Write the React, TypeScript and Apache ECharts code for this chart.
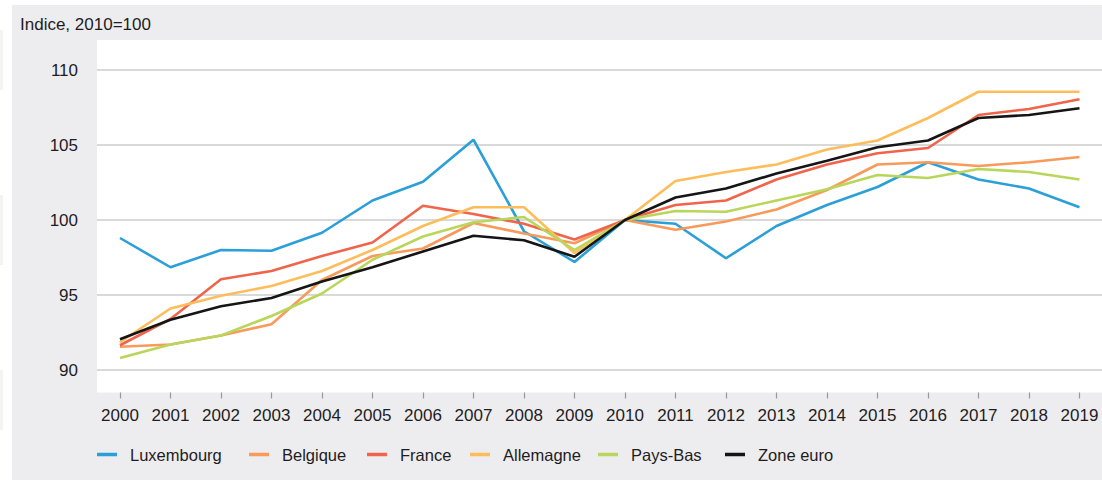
import React, { useEffect, useRef } from "react";
import * as echarts from "echarts";

const years = [2000, 2001, 2002, 2003, 2004, 2005, 2006, 2007, 2008, 2009, 2010, 2011, 2012, 2013, 2014, 2015, 2016, 2017, 2018, 2019];
const yTicks = [90, 95, 100, 105, 110];

const luxembourg = [98.8, 96.85, 98.0, 97.95, 99.15, 101.3, 102.55, 105.35, 99.25, 97.2, 100, 99.75, 97.45, 99.6, 101.0, 102.2, 103.85, 102.7, 102.1, 100.85];
const belgique = [91.55, 91.7, 92.3, 93.05, 96.0, 97.6, 98.1, 99.8, 99.1, 98.45, 100, 99.35, 99.9, 100.7, 102.0, 103.7, 103.85, 103.6, 103.85, 104.2];
const france = [91.65, 93.4, 96.05, 96.6, 97.6, 98.5, 100.95, 100.4, 99.75, 98.7, 100, 101.0, 101.3, 102.7, 103.7, 104.45, 104.8, 107.0, 107.4, 108.05];
const allemagne = [91.85, 94.1, 94.95, 95.6, 96.6, 98.0, 99.6, 100.85, 100.85, 97.8, 100, 102.6, 103.2, 103.7, 104.7, 105.3, 106.8, 108.55, 108.55, 108.55];
const paysBas = [90.8, 91.7, 92.3, 93.6, 95.1, 97.35, 98.9, 99.85, 100.2, 98.0, 100, 100.6, 100.55, 101.3, 102.05, 103.0, 102.8, 103.4, 103.2, 102.7];
const zoneEuro = [92.05, 93.35, 94.25, 94.8, 95.9, 96.85, 97.9, 98.95, 98.65, 97.55, 100, 101.5, 102.1, 103.1, 103.95, 104.85, 105.3, 106.8, 107.0, 107.45];

const seriesNames = ["Luxembourg", "Belgique", "France", "Allemagne", "Pays-Bas", "Zone euro"];
const seriesValues = [luxembourg, belgique, france, allemagne, paysBas, zoneEuro];
const seriesColors = ["#2a9fd8", "#f79a5b", "#ef644a", "#fdbd5a", "#b8d65a", "#151515"];
const legendLefts = [97, 249, 367, 470, 598, 725];

const FONT = "'Liberation Sans', Arial, sans-serif";
const TEXT = "#1f1c22";

export default function App() {
  const ref = useRef<HTMLDivElement>(null);
  useEffect(() => {
    if (!ref.current) return;
    const chart = echarts.init(ref.current, undefined, { renderer: "svg" });
    chart.setOption({
      animation: false,
      textStyle: { fontFamily: FONT },
      title: {
        text: "Indice, 2010=100",
        left: 20,
        top: 16,
        padding: 0,
        textStyle: { fontFamily: FONT, fontSize: 17, fontWeight: "normal", color: TEXT },
      },
      legend: seriesNames.map((n, i) => ({
        data: [{ name: n, icon: "rect", itemStyle: { color: seriesColors[i] } }],
        left: legendLefts[i],
        top: 446,
        padding: 0,
        itemWidth: 20,
        itemHeight: 3.5,
        textStyle: { fontFamily: FONT, fontSize: 16.5, color: TEXT, padding: [0, 0, 0, 8] },
      })),
      grid: {
        left: 97,
        right: 0,
        top: 40,
        bottom: 482 - 392.5,
        show: true,
        backgroundColor: "#ffffff",
        borderWidth: 0,
      },
      xAxis: {
        type: "value",
        min: 1999.545,
        max: 2019.446,
        axisLine: { show: false },
        splitLine: { show: false },
        axisTick: {
          show: true,
          customValues: years,
          length: 6,
          lineStyle: { color: "#9a9a9a", width: 1.2 },
        },
        axisLabel: {
          customValues: years,
          formatter: (v: number) => String(v),
          fontFamily: FONT,
          fontSize: 17,
          color: TEXT,
          margin: 14,
        },
      },
      yAxis: {
        type: "value",
        min: 88.5,
        max: 112,
        axisLine: { show: false },
        axisTick: { show: false, customValues: yTicks },
        splitLine: { show: true, lineStyle: { color: "#d9d9d9", width: 2 } },
        axisLabel: {
          customValues: yTicks,
          fontFamily: FONT,
          fontSize: 17,
          color: TEXT,
          margin: 19,
        },
      },
      series: seriesNames.map((n, i) => ({
        name: n,
        type: "line",
        symbol: "none",
        data: years.map((y, j) => [y, seriesValues[i][j]]),
        lineStyle: { color: seriesColors[i], width: 2.6 },
        itemStyle: { color: seriesColors[i] },
      })),
    });
    return () => chart.dispose();
  }, []);

  return (
    <div style={{ position: "fixed", left: 0, top: 0, width: 1102, height: 482, background: "#ffffff", overflow: "hidden" }}>
      <div style={{ position: "absolute", left: 12, top: 5, width: 1090, height: 475, background: "#ededef" }} />
      <div style={{ position: "absolute", left: 0, top: 30, width: 3, height: 60, background: "#f3f3f4" }} />
      <div style={{ position: "absolute", left: 0, top: 195, width: 3, height: 70, background: "#f3f3f4" }} />
      <div style={{ position: "absolute", left: 0, top: 370, width: 3, height: 60, background: "#f3f3f4" }} />
      <div ref={ref} style={{ position: "absolute", left: 0, top: 0, width: 1102, height: 482 }} />
    </div>
  );
}
